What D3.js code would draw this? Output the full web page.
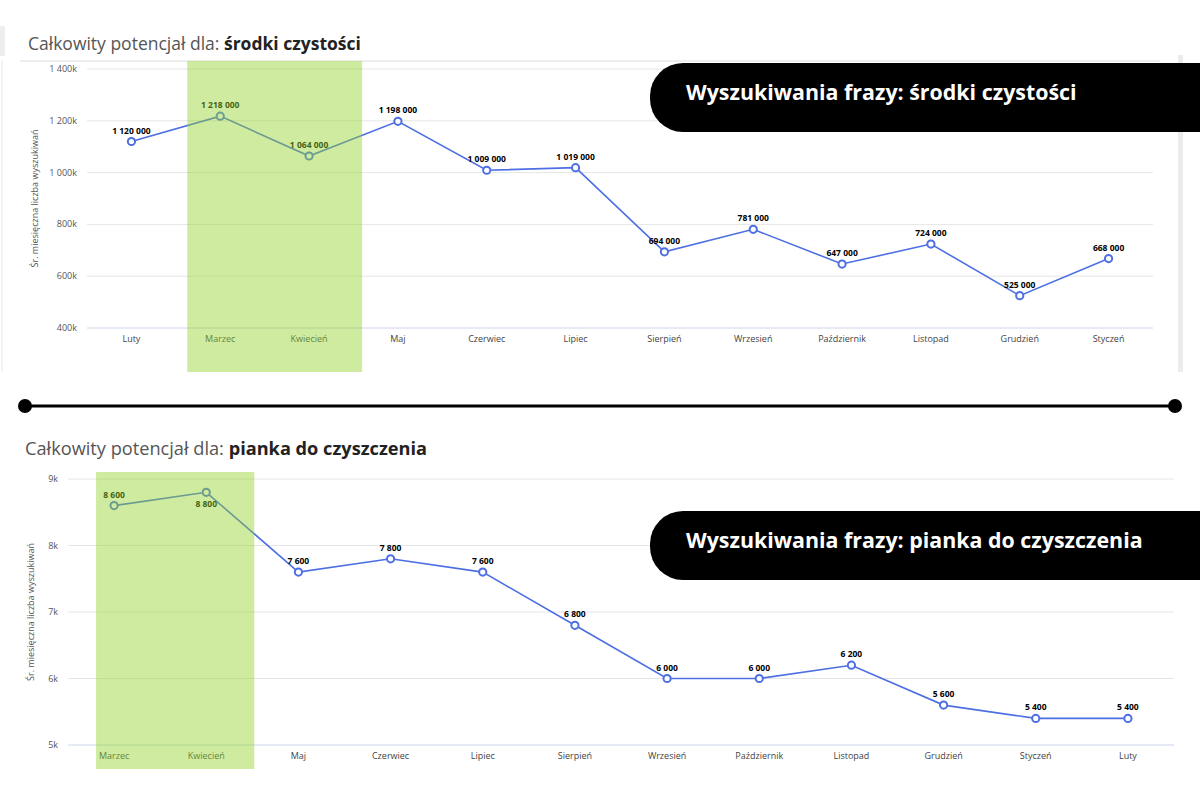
<!DOCTYPE html>
<html>
<head>
    <meta charset="utf-8">
    <title>Całkowity potencjał</title>
    <script src="https://d3js.org/d3.v7.min.js"></script>
    <style>
        body { margin: 0; background: #fff; }
        svg { display: block; font-family: "Open Sans", sans-serif; }
    </style>
</head>
<body>
<svg id="chart" width="1200" height="800"></svg>
<script>
    // chart 1: środki czystości
    const monthsA = ["Luty", "Marzec", "Kwiecień", "Maj", "Czerwiec", "Lipiec", "Sierpień",
        "Wrzesień", "Październik", "Listopad", "Grudzień", "Styczeń"];
    const valuesA = [1120000, 1218000, 1064000, 1198000, 1009000, 1019000, 694000,
        781000, 647000, 724000, 525000, 668000];
    const ticksA = [400000, 600000, 800000, 1000000, 1200000, 1400000];

    // chart 2: pianka do czyszczenia
    const monthsB = ["Marzec", "Kwiecień", "Maj", "Czerwiec", "Lipiec", "Sierpień", "Wrzesień",
        "Październik", "Listopad", "Grudzień", "Styczeń", "Luty"];
    const valuesB = [8600, 8800, 7600, 7800, 7600, 6800, 6000, 6000, 6200, 5600, 5400, 5400];
    const ticksB = [5000, 6000, 7000, 8000, 9000];

    const highlighted = ["Marzec", "Kwiecień"];

    const pl = d3.formatLocale({ decimal: ",", thousands: "\u00a0", grouping: [3], currency: ["", " zł"] });
    const fmt = pl.format(",d");

    const svg = d3.select("#chart");
    const lineColor = "#4d6fe3";

    function drawChart(o) {
        const g = svg.append("g");

        // title
        const t = g.append("text")
            .attr("x", o.titleX).attr("y", o.titleY)
            .style("font-size", o.titleSize + "px").attr("fill", "#555");
        t.append("tspan").text("Całkowity potencjał dla: ");
        t.append("tspan").attr("font-weight", 700).attr("fill", "#222").text(o.phrase);

        const x = d3.scalePoint(o.months, [o.left, o.right]).padding(0.5);
        const y = d3.scaleLinear([o.ticks[0], o.ticks[o.ticks.length - 1]], [o.bottom, o.top]);

        // grid + y ticks
        g.append("g").selectAll("line")
            .data(o.ticks).enter()
            .append("line")
            .attr("x1", o.left).attr("x2", o.right)
            .attr("y1", d => y(d)).attr("y2", d => y(d))
            .attr("stroke", (d, i) => i == 0 ? "#ccd6eb" : "#e6e6e6")
            .attr("stroke-width", 1);

        g.append("g").selectAll("text")
            .data(o.ticks).enter()
            .append("text")
            .attr("x", o.left - 10)
            .attr("y", d => y(d) + 3)
            .attr("text-anchor", "end")
            .style("font-size", "9px")
            .attr("fill", "#555")
            .text(d => fmt(d / 1000) + "k");

        g.append("text")
            .attr("transform", "translate(" + o.yLabelX + "," + ((o.top + o.bottom) / 2) + ") rotate(-90)")
            .attr("text-anchor", "middle")
            .style("font-size", "9px")
            .attr("fill", "#555")
            .text("Śr. miesięczna liczba wyszukiwań");

        // x labels
        g.append("g").selectAll("text")
            .data(o.months).enter()
            .append("text")
            .attr("x", d => x(d))
            .attr("y", o.bottom + 14)
            .attr("text-anchor", "middle")
            .style("font-size", "9px")
            .attr("fill", "#444")
            .text(d => d);

        const pts = o.months.map((m, i) => ({ m: m, v: o.values[i] }));

        g.append("path")
            .datum(pts)
            .attr("fill", "none")
            .attr("stroke", lineColor)
            .attr("stroke-width", 1.6)
            .attr("d", d3.line().x(d => x(d.m)).y(d => y(d.v)));

        g.append("g").selectAll("circle")
            .data(pts).enter()
            .append("circle")
            .attr("cx", d => x(d.m)).attr("cy", d => y(d.v))
            .attr("r", 3.6)
            .attr("fill", "#fff")
            .attr("stroke", lineColor)
            .attr("stroke-width", 2);

        g.append("g").selectAll("text")
            .data(pts).enter()
            .append("text")
            .attr("x", d => x(d.m))
            .attr("y", d => y(d.v) - 16 < o.top ? y(d.v) + 15 : y(d.v) - 8)
            .attr("text-anchor", "middle")
            .style("font-size", "8.5px")
            .attr("font-weight", 700)
            .attr("fill", "#000")
            .text(d => fmt(d.v));

        // green highlight over the chosen months
        const hx0 = x(highlighted[0]) - o.hlPadL;
        const hx1 = x(highlighted[1]) + o.hlPadR;
        g.append("rect")
            .attr("x", hx0).attr("y", o.hlTop)
            .attr("width", hx1 - hx0).attr("height", o.hlBottom - o.hlTop)
            .attr("fill", "#93d32c")
            .attr("fill-opacity", 0.45);

        // black badge
        g.append("rect")
            .attr("x", 650).attr("y", o.badgeY)
            .attr("width", 600).attr("height", 69)
            .attr("rx", 33)
            .attr("fill", "#000");
        g.append("text")
            .attr("x", 686).attr("y", o.badgeY + 37)
            .style("font-size", "21.4px")
            .attr("font-weight", 700)
            .attr("fill", "#fff")
            .text("Wyszukiwania frazy: " + o.phrase);
    }

    // panel frame of the top chart
    svg.append("rect").attr("x", 0).attr("y", 26).attr("width", 5).attr("height", 30).attr("fill", "#eee");
    svg.append("line").attr("x1", 20).attr("x2", 1160).attr("y1", 61).attr("y2", 61)
        .attr("stroke", "#eee").attr("stroke-width", 2);
    svg.append("line").attr("x1", 2).attr("x2", 2).attr("y1", 60).attr("y2", 372)
        .attr("stroke", "#f0f0f0").attr("stroke-width", 1.5);
    svg.append("rect").attr("x", 1178).attr("y", 55).attr("width", 5).attr("height", 317).attr("fill", "#ececec");

    drawChart({
        phrase: "środki czystości", months: monthsA, values: valuesA, ticks: ticksA,
        titleX: 28, titleY: 50, titleSize: 17.5, left: 87, right: 1153, top: 69, bottom: 328, yLabelX: 38,
        hlPadL: 33, hlPadR: 53, hlTop: 61, hlBottom: 372, badgeY: 63
    });

    drawChart({
        phrase: "pianka do czyszczenia", months: monthsB, values: valuesB, ticks: ticksB,
        titleX: 25, titleY: 455, titleSize: 18.2, left: 68, right: 1174, top: 479, bottom: 745, yLabelX: 34,
        hlPadL: 18, hlPadR: 48, hlTop: 472, hlBottom: 769, badgeY: 511
    });

    // separator
    const sep = svg.append("g");
    sep.append("line").attr("x1", 25).attr("x2", 1175).attr("y1", 406).attr("y2", 406)
        .attr("stroke", "#000").attr("stroke-width", 3);
    sep.selectAll("circle").data([25, 1175]).enter()
        .append("circle").attr("cx", d => d).attr("cy", 406).attr("r", 7).attr("fill", "#000");
</script>
</body>
</html>
